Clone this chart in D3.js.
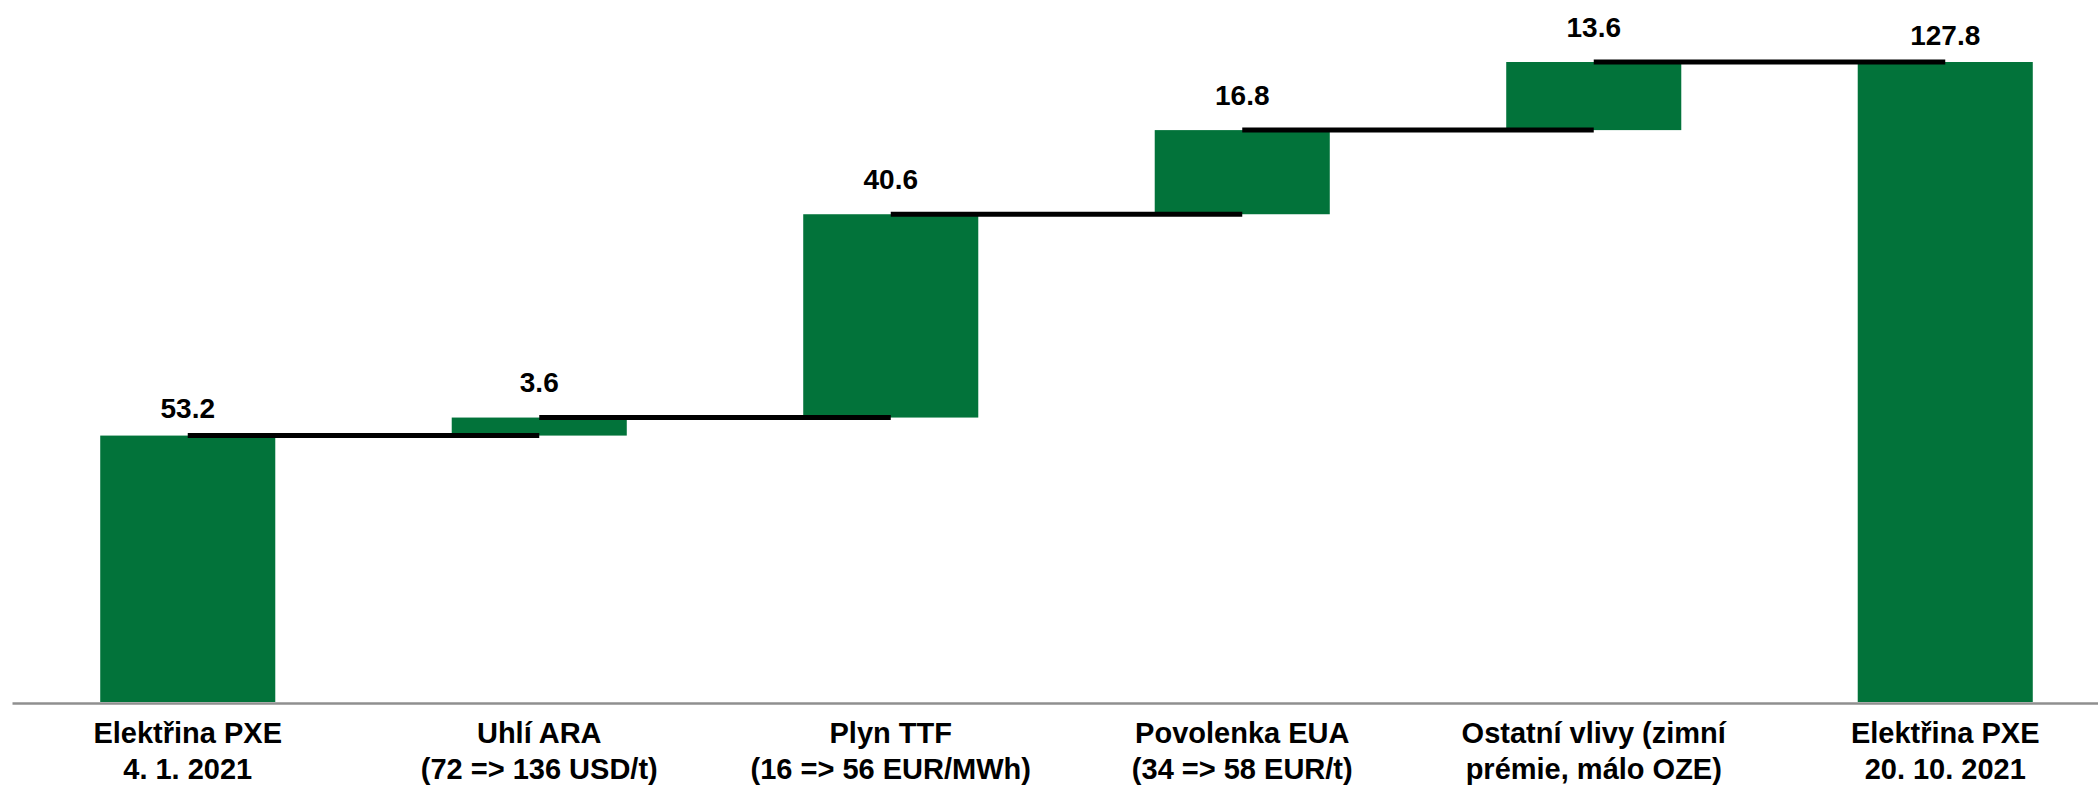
<!DOCTYPE html>
<html>
<head>
<meta charset="utf-8">
<script src="https://cdn.jsdelivr.net/npm/d3@7"></script>
<style>
  html, body { margin: 0; padding: 0; background: #fff; }
  svg { display: block; font-family: "Liberation Sans", Arial, sans-serif; }
  .axis path { stroke: #8f8f8f; stroke-width: 2.5; }
  .axis text { font-size: 29px; font-weight: bold; fill: #000; }
  .bar { fill: #02733a; }
  .conn { stroke: #000; stroke-width: 5; }
  .val { font-size: 28px; font-weight: bold; fill: #000; }
</style>
</head>
<body>
<div id="chart"></div>
<script>
/* Waterfall: price of electricity PXE, 4.1.2021 -> 20.10.2021 */

const categories = ['pxe0', 'coal', 'gas', 'eua', 'other', 'pxe1'];
const labelLine1 = ['Elektřina PXE', 'Uhlí ARA', 'Plyn TTF', 'Povolenka EUA', 'Ostatní vlivy (zimní', 'Elektřina PXE'];
const labelLine2 = ['4. 1. 2021', '(72 => 136 USD/t)', '(16 => 56 EUR/MWh)', '(34 => 58 EUR/t)', 'prémie, málo OZE)', '20. 10. 2021'];
const values = [53.2, 3.6, 40.6, 16.8, 13.6, 127.8];
const isTotal = [true, false, false, false, false, true];

function drawChart() {
  const width = 2098;
  const height = 786;

  // stack deltas on top of the running total
  let run = 0;
  const rows = categories.map((c, i) => {
    const base = isTotal[i] ? 0 : run;
    const top = isTotal[i] ? values[i] : run + values[i];
    run = top;
    return { key: c, i, base, top, value: values[i], total: isTotal[i] };
  });

  const svg = d3.select('#chart').append('svg')
    .attr('width', width).attr('height', height);

  const x = d3.scaleBand().domain(categories).range([12, 2121])
    .paddingInner(0.502).paddingOuter(0.251);
  const y = d3.scaleLinear().domain([0, 127.8]).range([702, 62]);

  // bars
  svg.selectAll('.bar').data(rows).enter().append('rect')
    .attr('class', 'bar')
    .attr('x', d => x(d.key))
    .attr('y', d => y(d.top))
    .attr('width', x.bandwidth())
    .attr('height', d => y(d.base) - y(d.top));

  // connectors from one bar centre to the next
  const links = rows.slice(0, -1).map((d, i) => ({ from: d.key, to: rows[i + 1].key, level: d.top }));
  svg.selectAll('.conn').data(links).enter().append('line')
    .attr('class', 'conn')
    .attr('x1', d => x(d.from) + x.bandwidth() / 2)
    .attr('x2', d => x(d.to) + x.bandwidth() / 2)
    .attr('y1', d => y(d.level))
    .attr('y2', d => y(d.level));

  // value labels
  svg.selectAll('.val').data(rows).enter().append('text')
    .attr('class', 'val')
    .attr('text-anchor', 'middle')
    .attr('x', d => x(d.key) + x.bandwidth() / 2)
    .attr('y', d => y(d.top) - (d.total ? 17.5 : 25.5))
    .text(d => d.value.toFixed(1));

  // category axis with two-line labels
  const axis = svg.append('g').attr('class', 'axis')
    .attr('transform', `translate(0,${y(0) + 1})`)
    .call(d3.axisBottom(x).tickSize(0).tickSizeOuter(0).tickFormat(''));

  axis.selectAll('.tick text').each(function (d) {
    const i = categories.indexOf(d);
    const t = d3.select(this).attr('y', 0).attr('dy', null);
    t.append('tspan').attr('x', 0).attr('y', 40).text(labelLine1[i]);
    t.append('tspan').attr('x', 0).attr('y', 76).text(labelLine2[i]);
  });
}

document.addEventListener('DOMContentLoaded', drawChart);
</script>
</body>
</html>
